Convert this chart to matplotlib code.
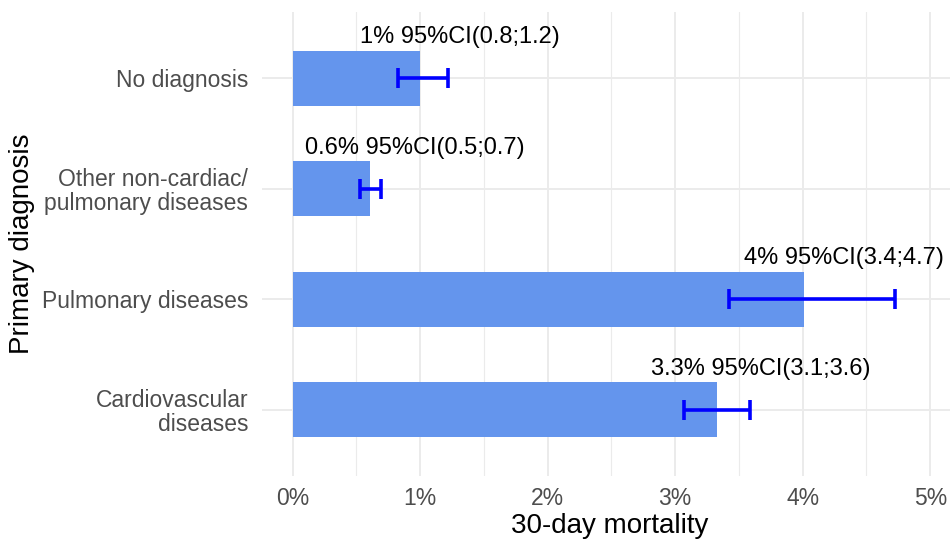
import matplotlib
matplotlib.use("Agg")
import matplotlib.pyplot as plt
from matplotlib.ticker import FuncFormatter, MultipleLocator
from matplotlib.transforms import ScaledTranslation

plt.rcParams['font.family'] = ['Liberation Sans', 'DejaVu Sans']

categories = ["Cardiovascular\ndiseases", "Pulmonary diseases",
              "Other non-cardiac/\npulmonary diseases", "No diagnosis"]
mortality = [3.33, 4.01, 0.61, 1.00]
ci_low = [3.07, 3.42, 0.53, 0.83]
ci_high = [3.59, 4.72, 0.69, 1.22]
labels = ["3.3% 95%CI(3.1;3.6)", "4% 95%CI(3.4;4.7)",
          "0.6% 95%CI(0.5;0.7)", "1% 95%CI(0.8;1.2)"]
x_ticks = [0, 1, 2, 3, 4, 5]

fig = plt.figure(figsize=(9.5, 5.43), dpi=100)
ax = fig.add_axes([262/950, 1-476/543, 1-262/950, (476-12)/543])

ypos = list(range(1, len(categories)+1))
ax.barh(ypos, mortality, height=0.5, color="#6495ED", zorder=2)
xerr = [[m - l for m, l in zip(mortality, ci_low)], [h - m for m, h in zip(mortality, ci_high)]]
ax.errorbar(mortality, ypos, xerr=xerr, fmt='none', ecolor="#0000FF",
            elinewidth=2.6, capsize=7.5, capthick=2.6, zorder=3)

ax.set_xlim(-0.24, 5.155)
ax.set_ylim(0.4, 4.6)
ax.set_xticks(x_ticks)
ax.xaxis.set_major_formatter(FuncFormatter(lambda v, p: f"{int(round(v))}%"))
ax.xaxis.set_minor_locator(MultipleLocator(0.5))
ax.set_yticks(ypos)
ax.set_yticklabels(categories, linespacing=1.05)

ax.grid(True, which='major', color="#EBEBEB", linewidth=1.4, zorder=0)
ax.grid(True, which='minor', axis='x', color="#EBEBEB", linewidth=0.8, zorder=0)
ax.set_axisbelow(True)
for s in ax.spines.values():
    s.set_visible(False)
ax.tick_params(axis='both', which='both', length=0, labelsize=16.5, labelcolor="#4D4D4D")
ax.tick_params(axis='x', pad=8)
ax.tick_params(axis='y', pad=10)

ax.set_xlabel("30-day mortality", fontsize=20)
ax.set_ylabel("Primary diagnosis", fontsize=20)
ax.xaxis.label.set_va('center')
ax.xaxis.label.set_ha('center')
ax.yaxis.label.set_va('center')
ax.yaxis.label.set_ha('center')
ax.xaxis.set_label_coords((610-262)/688, (476-526)/464)
ax.yaxis.set_label_coords((22-262)/688, 0.5)

texts = []
for y, m, lab in zip(ypos, mortality, labels):
    t = ax.text(m, y + 0.37, lab, ha='left', va='center', fontsize=17, color='black', zorder=4)
    texts.append(t)

fig.canvas.draw()
r = fig.canvas.get_renderer()
for t in texts:
    w = t.get_window_extent(r).width
    t.set_transform(ax.transData + ScaledTranslation(-0.3*w/fig.dpi, 0, fig.dpi_scale_trans))

fig.savefig("out.png", dpi=100)
